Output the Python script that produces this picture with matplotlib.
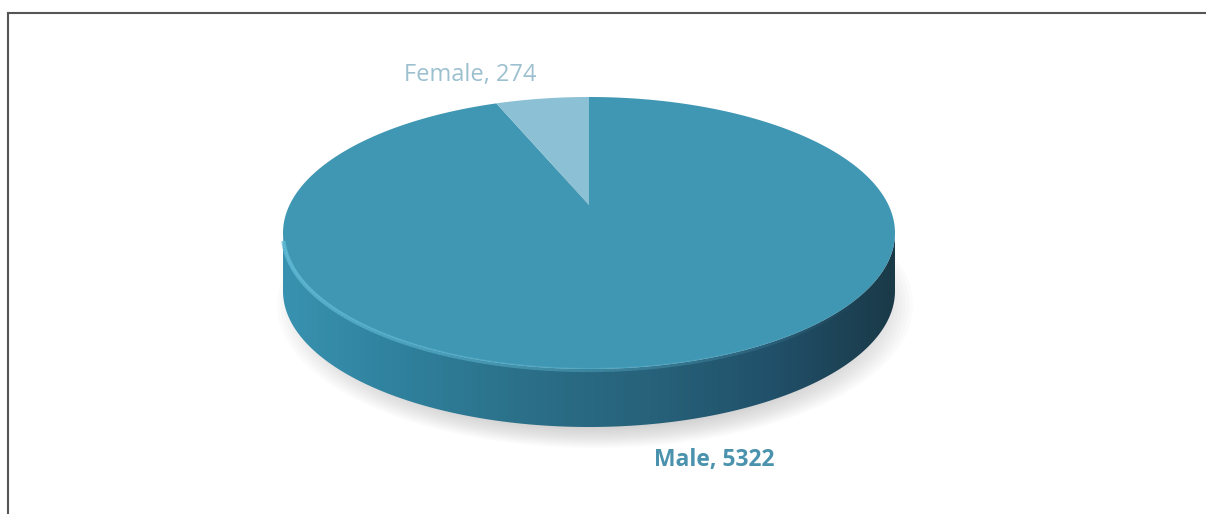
import numpy as np
import matplotlib.pyplot as plt
from matplotlib.patches import Polygon, Ellipse
from matplotlib.colors import LinearSegmentedColormap

plt.rcParams['font.family'] = ['Open Sans', 'DejaVu Sans']

labels = ['Male', 'Female']
values = [5322, 274]
top_colors = ['#4097b3', '#8cc0d4']
label_colors = ['#4a92ad', '#9cc0cf']

# pie geometry in pixels
cx, cy = 589, 233
a, b = 306, 136
depth = 58
apex_lift = 28

fig = plt.figure(figsize=(12.06, 5.14), dpi=100)
ax = fig.add_axes([0, 0, 1, 1])
ax.set_xlim(0, 1206)
ax.set_ylim(514, 0)
ax.axis('off')


def ell(t, dy=0):
    t = np.radians(t)
    return cx + a * np.cos(t), cy - b * np.sin(t) + dy


# soft shadow under the pie
for i in range(14):
    k = 1 - i * 0.012
    sh = Ellipse((cx + 6, cy + depth + 14), 2 * a * k + 24, 2 * b * k + 14,
                 facecolor='#8a8a8a', edgecolor='none', alpha=0.03, zorder=1)
    ax.add_patch(sh)

# side of the pie (front half), shaded left to right
t = np.linspace(180, 360, 200)
xt, yt = ell(t)
xb, yb = ell(t[::-1], depth)
side_pts = np.column_stack([np.r_[xt, xb], np.r_[yt, yb]])
side = Polygon(side_pts, closed=True, facecolor='none', edgecolor='none')
ax.add_patch(side)
side_cmap = LinearSegmentedColormap.from_list(
    'side', ['#3892b0', '#2f809c', '#2b6f88', '#27627a', '#21506a', '#1a3a48'])
grad = np.linspace(0, 1, 256).reshape(1, -1)
im = ax.imshow(grad, cmap=side_cmap, aspect='auto',
               extent=[cx - a, cx + a, cy + b + depth + 2, cy - 5], zorder=2)
im.set_clip_path(side)

# top face wedges, clockwise from 12 o'clock
total = sum(values)
start = 90.0
for val, col in zip(values, top_colors):
    sweep = 360.0 * val / total
    arc = np.linspace(start, start - sweep, 400)
    ax_, ay_ = ell(arc)
    pts = np.column_stack([np.r_[cx, ax_], np.r_[cy - apex_lift, ay_]])
    ax.add_patch(Polygon(pts, closed=True, facecolor=col, edgecolor='none', zorder=3))
    start -= sweep

# light bevel along the front rim
tr = np.linspace(183, 330, 140)
rx, ry = ell(tr, 1)
for i in range(len(tr) - 1):
    alpha = 0.85 * (1 - i / len(tr))
    ax.plot(rx[i:i + 2], ry[i:i + 2], color='#62bdd8', lw=3, alpha=alpha,
            solid_capstyle='butt', zorder=4)

# data labels
ax.text(470, 75, f'{labels[1]}, {values[1]}', color=label_colors[1],
        fontsize=17, ha='center', va='center', zorder=5)
ax.text(714, 460, f'{labels[0]}, {values[0]}', color=label_colors[0],
        fontsize=16.5, fontweight='bold', ha='center', va='center', zorder=5)

# frame lines (top and left only)
ax.plot([8, 8], [514, 13], color='#555555', lw=1.5, zorder=6)
ax.plot([8, 1206], [13, 13], color='#555555', lw=1.5, zorder=6)

fig.savefig('out.png', dpi=100, facecolor='white')
